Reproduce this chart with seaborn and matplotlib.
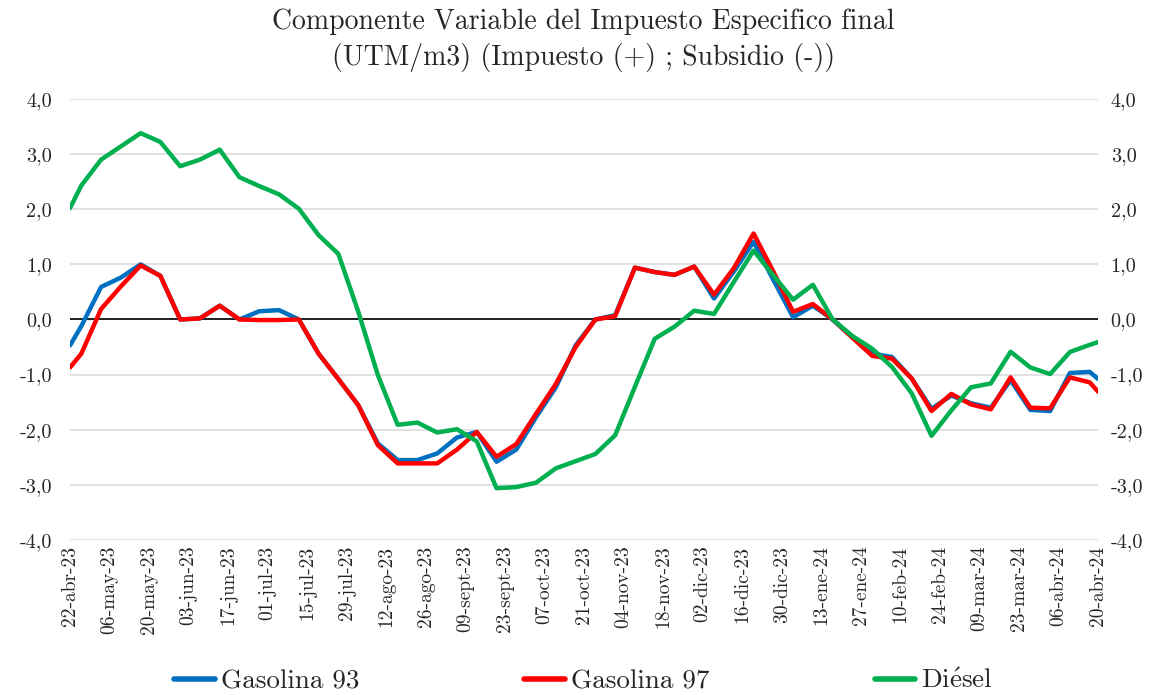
import pandas as pd
import matplotlib
matplotlib.use("Agg")
import matplotlib.pyplot as plt
import seaborn as sns

# ---- data ----
series_names = ["Gasolina 93", "Gasolina 97", "Diésel"]
series_colors = ["#0070C0", "#FF0000", "#00B050"]
legend_labels = ["Gasolina 93", "Gasolina 97", r"Di$\mathrm{\acute{e}}$sel"]

# first point sits on the axis start, weekly points, last point on the axis end
week_dates = list(pd.date_range("2023-04-26", periods=52, freq="7D"))
dates = [pd.Timestamp("2023-04-22")] + week_dates + [pd.Timestamp("2024-04-20")]

gas93 = [-0.47, -0.12, 0.59, 0.76, 1.00, 0.79, 0.00, 0.02, 0.25, 0.00, 0.15,
         0.17, 0.00, -0.62, -1.08, -1.55, -2.25, -2.55, -2.55, -2.43, -2.14,
         -2.04, -2.58, -2.36, -1.77, -1.23, -0.47, 0.00, 0.08, 0.94, 0.86,
         0.81, 0.96, 0.38, 0.87, 1.41, 0.72, 0.04, 0.25, 0.00, -0.32, -0.62,
         -0.68, -1.07, -1.62, -1.38, -1.52, -1.60, -1.10, -1.64, -1.66, -0.97,
         -0.95, -1.08]
gas97 = [-0.87, -0.62, 0.19, 0.60, 0.98, 0.79, 0.00, 0.02, 0.25, 0.00, -0.01,
         -0.01, 0.00, -0.62, -1.08, -1.55, -2.28, -2.61, -2.61, -2.61, -2.36,
         -2.04, -2.49, -2.26, -1.71, -1.17, -0.50, 0.00, 0.06, 0.94, 0.86,
         0.81, 0.96, 0.45, 0.93, 1.56, 0.87, 0.14, 0.28, 0.00, -0.33, -0.66,
         -0.71, -1.07, -1.66, -1.35, -1.54, -1.63, -1.05, -1.60, -1.61, -1.05,
         -1.14, -1.31]
diesel = [2.02, 2.43, 2.90, 3.14, 3.38, 3.22, 2.78, 2.90, 3.08, 2.58, 2.42,
          2.27, 2.01, 1.53, 1.19, 0.15, -1.01, -1.91, -1.87, -2.05, -1.99,
          -2.21, -3.06, -3.04, -2.96, -2.70, -2.57, -2.44, -2.10, -1.22, -0.35,
          -0.13, 0.16, 0.10, 0.68, 1.25, 0.80, 0.36, 0.63, 0.00, -0.30, -0.53,
          -0.86, -1.34, -2.11, -1.65, -1.23, -1.16, -0.585, -0.87, -0.99, -0.59,
          -0.46, -0.41]

tick_dates = list(pd.date_range("2023-04-22", "2024-04-20", freq="14D"))
tick_labels = ["22-abr-23", "06-may-23", "20-may-23", "03-jun-23", "17-jun-23",
               "01-jul-23", "15-jul-23", "29-jul-23", "12-ago-23", "26-ago-23",
               "09-sept-23", "23-sept-23", "07-oct-23", "21-oct-23", "04-nov-23",
               "18-nov-23", "02-dic-23", "16-dic-23", "30-dic-23", "13-ene-24",
               "27-ene-24", "10-feb-24", "24-feb-24", "09-mar-24", "23-mar-24",
               "06-abr-24", "20-abr-24"]
y_ticks = [-4, -3, -2, -1, 0, 1, 2, 3, 4]
y_labels = ["-4,0", "-3,0", "-2,0", "-1,0", "0,0", "1,0", "2,0", "3,0", "4,0"]

df = pd.DataFrame({"fecha": dates, "Gasolina 93": gas93,
                   "Gasolina 97": gas97, "Diésel": diesel})
long = df.melt(id_vars="fecha", var_name="serie", value_name="valor")

# ---- style ----
sns.set_style("white")
plt.rcParams["font.family"] = ["cmr10", "DejaVu Serif"]
plt.rcParams["mathtext.fontset"] = "cm"
plt.rcParams["axes.unicode_minus"] = False

fig, ax = plt.subplots(figsize=(11.67, 6.95), dpi=100)
fig.subplots_adjust(left=0.060, right=0.941, top=0.8576, bottom=0.223)

ax.set_ylim(-4, 4)
ax.set_xlim(pd.Timestamp("2023-04-22"), pd.Timestamp("2024-04-20"))
ax.set_yticks(y_ticks)
ax.grid(axis="y", color="#D9D9D9", linewidth=1.1, zorder=0)
ax.axhline(0, color="black", linewidth=1.2, zorder=1.5)

sns.lineplot(data=long, x="fecha", y="valor", hue="serie",
             hue_order=series_names, palette=series_colors,
             linewidth=3.2, ax=ax, zorder=3)

ax.set_xticks(tick_dates)
ax.set_xticklabels(tick_labels, rotation=90, fontsize=14)
ax.set_yticklabels(y_labels, fontsize=14.5)
ax.set_xlabel("")
ax.set_ylabel("")
ax.tick_params(axis="x", length=0, pad=4, colors="#262626")
ax.tick_params(axis="y", length=0, pad=13, colors="#262626")
for s in ax.spines.values():
    s.set_visible(False)

ax2 = ax.twinx()
ax2.set_ylim(-4, 4)
ax2.set_yticks(y_ticks)
ax2.set_yticklabels(y_labels, fontsize=14.5)
ax2.tick_params(axis="y", length=0, pad=9, colors="#262626")
for s in ax2.spines.values():
    s.set_visible(False)

# legend below the axis labels
handles, _ = ax.get_legend_handles_labels()
ax.get_legend().remove()
for h in handles:
    h.set_linewidth(4)
fig.legend(handles, legend_labels, loc="center", bbox_to_anchor=(0.5, 1 - 681 / 695),
           ncol=3, frameon=False, fontsize=19.5, handlelength=1.5,
           handletextpad=0.22, columnspacing=6.1)

fig.text(0.5, 1 - 22 / 695, "Componente Variable del Impuesto Especifico final",
         ha="center", va="center", fontsize=20)
fig.text(0.5, 1 - 58 / 695, "(UTM/m3) (Impuesto (+) ; Subsidio (-))",
         ha="center", va="center", fontsize=20)

plt.savefig("out.png", dpi=100)
